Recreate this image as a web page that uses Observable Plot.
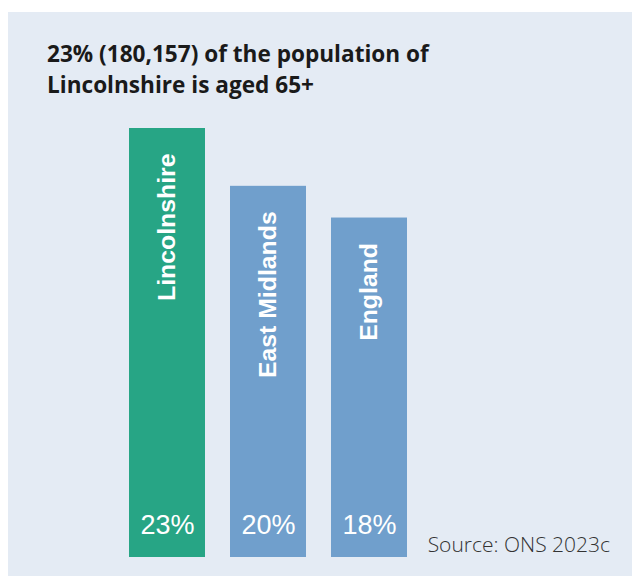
<!DOCTYPE html>
<html>
<head>
<meta charset="utf-8">
<script src="https://cdn.jsdelivr.net/npm/d3@7"></script>
<script src="https://cdn.jsdelivr.net/npm/@observablehq/plot@0.6"></script>
<style>
  html, body { margin: 0; padding: 0; background: #ffffff; }
  #page { position: relative; width: 632px; height: 576px; overflow: hidden; }
  #panel { position: absolute; left: 8px; top: 12px; width: 624px; height: 564px; background: #e4ebf4; }
  #title { position: absolute; left: 47px; top: 38px; font-family: "Open Sans", sans-serif; font-weight: 700; font-size: 22.6px; line-height: 31px; color: #1a1a1a; }
  #chart { position: absolute; left: 0; top: 100px; }
  #source { position: absolute; right: 22px; top: 530px; font-family: "Open Sans", sans-serif; font-weight: 300; font-size: 21px; color: #333; line-height: 28px; }
</style>
</head>
<body>
<div id="page">
  <div id="panel"></div>
  <div id="title">23% (180,157) of the population of<br>Lincolnshire is aged 65+</div>
  <div id="chart"></div>
  <div id="source">Source: ONS 2023c</div>
</div>
<script>
const areas = ["Lincolnshire", "East Midlands", "England"];
const shares = [23, 19.9, 18.2];
const shareLabels = ["23%", "20%", "18%"];
const barColors = ["#27a585", "#709fcc", "#709fcc"];

const data = areas.map((a, i) => ({area: a, value: shares[i], label: shareLabels[i], color: barColors[i]}));

const chart = Plot.plot({
  width: 632,
  height: 476,
  marginLeft: 128,
  marginRight: 224,
  marginTop: 28,
  marginBottom: 19,
  style: {background: "transparent", overflow: "visible"},
  x: {domain: areas, paddingInner: 0.246, paddingOuter: 0, axis: null},
  y: {domain: [0, 23], axis: null},
  marks: [
    Plot.barY(data, {x: "area", y: "value", fill: "color"}),
    Plot.text(data, {
      x: "area", y: "value", text: "area", rotate: -90, textAnchor: "end",
      lineAnchor: "middle", dy: 25, fill: "white",
      fontFamily: "Liberation Sans, Arial, sans-serif", fontWeight: "bold", fontSize: 24.8
    }),
    Plot.text(data, {
      x: "area", y: 0, text: "label", lineAnchor: "bottom", dy: -24, fill: "white",
      fontFamily: "Liberation Sans, Arial, sans-serif", fontSize: 27
    })
  ]
});
document.getElementById("chart").appendChild(chart);
</script>
</body>
</html>
